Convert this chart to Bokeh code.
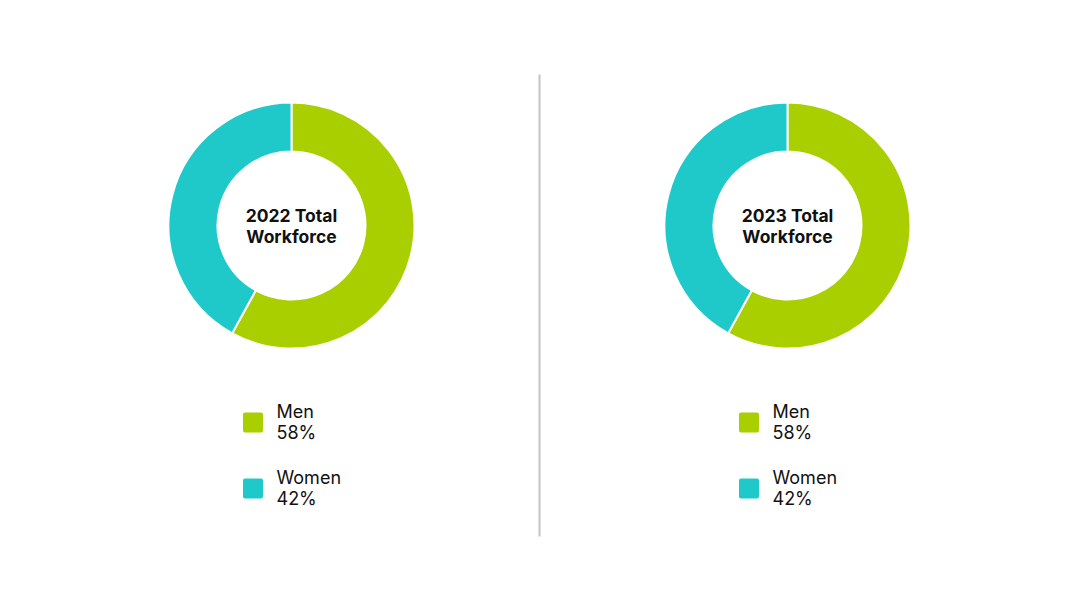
import numpy as np
from bokeh.plotting import figure
from bokeh.models import Range1d, ColumnDataSource
from bokeh.core.properties import value
from bokeh.embed import file_html
from bokeh.resources import INLINE

# ---- data ----
years = ["2022", "2023"]
categories = ["Men", "Women"]
men_pct = [58, 58]
women_pct = [42, 42]
colors = ["#AACF00", "#1FC9CA"]

# ---- layout (pixel positions, y measured from top) ----
W, H = 1079, 607
centers_x = [291, 787]
center_y = 225
outer_r = 123
inner_r = 74
FONT = "Inter"

def Y(py):
    return H - py

p = figure(width=W, height=H, output_backend="svg", toolbar_location=None,
           x_range=Range1d(0, W), y_range=Range1d(0, H),
           x_axis_location=None, y_axis_location=None, min_border=0)
p.grid.visible = False
p.outline_line_color = None
p.background_fill_color = "white"
p.border_fill_color = "white"

for i, yr in enumerate(years):
    vals = [men_pct[i], women_pct[i]]
    cx = centers_x[i]
    # men: clockwise from top; women: rest
    fr = np.array(vals) / sum(vals) * 2 * np.pi
    top = np.pi / 2
    starts = [top - fr[0], top]
    ends = [top, top + fr[1]]
    src = ColumnDataSource(dict(x=[cx, cx], y=[Y(center_y)] * 2, s=starts, e=ends, c=colors))
    p.annular_wedge(x="x", y="y", inner_radius=inner_r, outer_radius=outer_r,
                    start_angle="s", end_angle="e", fill_color="c",
                    line_color="white", line_width=2, source=src)
    # center title
    p.text(x=[cx, cx], y=[Y(215), Y(236)], text=[f"{yr} Total", "Workforce"],
           text_font=value(FONT), text_font_style="bold", text_font_size="17.5px",
           text_color="#111111", text_align="center", text_baseline="alphabetic")
    # legend
    sq_x = cx - 38.5
    lx = cx - 15
    for j, cat in enumerate(categories):
        top_py = 422 + j * 66
        p.scatter(x=[sq_x], y=[Y(top_py)], marker="square", size=16,
                  fill_color=colors[j], line_color=colors[j], line_width=4,
                  line_join="round")
        p.text(x=[lx, lx], y=[Y(top_py - 11), Y(top_py + 10)],
               text=[cat, f"{vals[j]}%"], text_font=value(FONT),
               text_font_size="18px", text_color="#111111",
               text_align="left", text_baseline="alphabetic")

# divider
p.segment(x0=[539], y0=[Y(74)], x1=[539], y1=[Y(536)], line_color="#C4C4C4", line_width=2)

open("out.html", "w").write(file_html(p, INLINE))
